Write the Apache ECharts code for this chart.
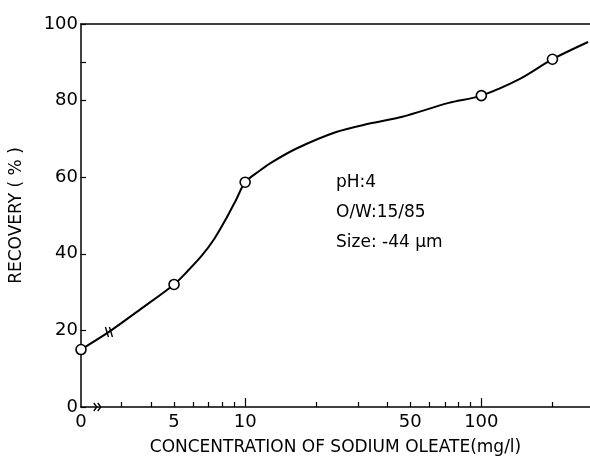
<!DOCTYPE html>
<html>
<head>
<meta charset="utf-8">
<script src="https://cdn.jsdelivr.net/npm/echarts@6/dist/echarts.min.js"></script>
<style>
  html, body { margin: 0; padding: 0; background: #fff; }
  #chart { width: 590px; height: 463px; }
</style>
</head>
<body>
<div id="chart"></div>
<script>
// measured points (open circles)
const markerConc = [0, 5, 10, 100, 200];
const markerRecovery = [15, 32, 58.7, 81.3, 90.8];

// hand-drawn curve
const curveConc = [0, 2.65, 3.6, 5, 5.71, 6.55, 7.42, 8.33, 9.17, 10, 11.4, 12.8, 16.5, 24.3, 33.6, 46.3, 72.8, 100, 147, 200, 283];
const curveRecovery = [15, 19.6, 25.5, 32, 35.5, 39.5, 44, 49.3, 54.2, 58.7, 61.5, 63.7, 67.5, 71.8, 74.0, 75.8, 79.4, 81.3, 85.8, 90.8, 95.3];

// axis ticks / labels
const minorTickConc = [3, 4, 5, 6, 7, 8, 9, 20, 30, 40, 50, 60, 70, 80, 90, 200];
const majorTickConc = [10, 100];
const xLabelConc = [0, 5, 10, 50, 100];
const yTickValues = [0, 20, 40, 60, 80, 90, 100];

// axis breaks: on the x axis and on the curve
const axisBreakConc = [2.4];
const curveBreakConc = [2.65];
const curveBreakRecovery = [19.6];

const notes = ['pH:4', 'O/W:15/85', 'Size: -44 μm'];

// the "0" sits at the log position of ~2 (broken axis)
const ZERO_POS = 0.305;
const X_MAX = 2.46;
function toU(c) { return c === 0 ? ZERO_POS : Math.log10(c); }

const FONT = 'DejaVu Sans';
const chart = echarts.init(document.getElementById('chart'));

const labelMap = {};
xLabelConc.forEach(c => { labelMap[toU(c).toFixed(4)] = String(c); });

const option = {
  animation: false,
  grid: { left: 75, right: 0, top: 24, bottom: 56, containLabel: false },
  xAxis: [
    {
      type: 'value', min: ZERO_POS, max: X_MAX, position: 'bottom',
      name: 'CONCENTRATION OF SODIUM OLEATE(mg/l)',
      nameLocation: 'middle', nameGap: 32,
      nameTextStyle: { fontFamily: FONT, fontSize: 17, color: '#000' },
      axisLine: { lineStyle: { color: '#000', width: 1.5 } },
      axisTick: { inside: true, length: 5, lineStyle: { color: '#000', width: 1.2 },
        customValues: minorTickConc.map(toU) },
      axisLabel: { fontFamily: FONT, fontSize: 18, color: '#000', margin: 6,
        customValues: xLabelConc.map(toU),
        formatter: v => labelMap[v.toFixed(4)] || '' },
      splitLine: { show: false }
    },
    {
      type: 'value', min: ZERO_POS, max: X_MAX, position: 'bottom',
      axisLine: { show: false },
      axisTick: { inside: true, length: 9, lineStyle: { color: '#000', width: 1.2 },
        customValues: majorTickConc.map(toU) },
      axisLabel: { show: false },
      splitLine: { show: false }
    },
    {
      type: 'value', min: ZERO_POS, max: X_MAX, position: 'top',
      axisLine: { lineStyle: { color: '#000', width: 1.5 } },
      axisTick: { show: false }, axisLabel: { show: false }, splitLine: { show: false }
    }
  ],
  yAxis: {
    type: 'value', min: 0, max: 100, interval: 20,
    name: 'RECOVERY ( % )', nameLocation: 'middle', nameGap: 56, nameRotate: 90,
    nameTextStyle: { fontFamily: FONT, fontSize: 17, color: '#000' },
    axisLine: { show: true, lineStyle: { color: '#000', width: 1.5 } },
    axisTick: { inside: true, length: 5, lineStyle: { color: '#000', width: 1.2 },
      customValues: yTickValues },
    axisLabel: { fontFamily: FONT, fontSize: 18, color: '#000', margin: 3 },
    splitLine: { show: false }
  },
  graphic: [{
    type: 'group', left: 336, top: 174,
    children: notes.map((t, i) => ({
      type: 'text', x: 0, y: i * 30,
      style: { text: t, fontFamily: FONT, fontSize: 17, fill: '#000' }
    }))
  }],
  series: [
    {
      type: 'line', xAxisIndex: 0,
      data: curveConc.map((c, i) => [toU(c), curveRecovery[i]]),
      smooth: 0.3, showSymbol: false, symbol: 'none',
      lineStyle: { color: '#000', width: 2 }, z: 2
    },
    {
      type: 'scatter', xAxisIndex: 0,
      data: markerConc.map((c, i) => [toU(c), markerRecovery[i]]),
      symbol: 'circle', symbolSize: 10,
      itemStyle: { color: '#fff', borderColor: '#000', borderWidth: 1.6, opacity: 1 }, z: 3
    },
    {
      // double chevron on the x axis
      type: 'custom', xAxisIndex: 0,
      data: axisBreakConc.map(c => [toU(c), 0]),
      renderItem: (params, api) => {
        const p = api.coord([api.value(0), api.value(1)]);
        const s = { stroke: '#000', lineWidth: 1.4, fill: null };
        return {
          type: 'group',
          children: [-2, 2].map(dx => ({
            type: 'polyline',
            shape: { points: [[p[0] + dx - 3, p[1] - 4], [p[0] + dx, p[1]], [p[0] + dx - 3, p[1] + 4]] },
            style: s
          }))
        };
      },
      z: 4
    },
    {
      // two strokes across the curve
      type: 'custom', xAxisIndex: 0,
      data: curveBreakConc.map((c, i) => [toU(c), curveBreakRecovery[i]]),
      renderItem: (params, api) => {
        const p = api.coord([api.value(0), api.value(1)]);
        const s = { stroke: '#000', lineWidth: 1.4 };
        return {
          type: 'group',
          children: [-2, 2].map(dx => ({
            type: 'line',
            shape: { x1: p[0] + dx - 1.5, y1: p[1] - 5, x2: p[0] + dx + 1.5, y2: p[1] + 5 },
            style: s
          }))
        };
      },
      z: 4
    }
  ]
};

chart.setOption(option);
</script>
</body>
</html>
